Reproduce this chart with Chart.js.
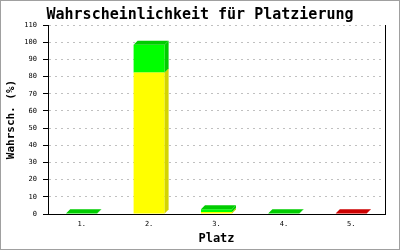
<!DOCTYPE html>
<html>
<head>
<meta charset="utf-8">
<script src="https://cdn.jsdelivr.net/npm/chart.js@4/dist/chart.umd.min.js"></script>
<style>
  body { margin: 0; background: #fff; }
  #wrap { width: 400px; height: 250px; }
</style>
</head>
<body>
<div id="wrap"><canvas id="myChart" width="400" height="250"></canvas></div>
<script>
var places      = ["1.", "2.", "3.", "4.", "5."];
var yellowPart  = [0, 82.3, 1.2, 0, 0];
var topPart     = [0.5, 16.2, 1.5, 0.5, 0.5];
var topColors   = ["#00ff00", "#00ff00", "#00ff00", "#00ff00", "#ff0000"];
var yMax        = 110;
var yStep       = 10;

var mono = "'DejaVu Sans Mono', 'Liberation Mono', monospace";

// darker shade for the 3d faces
function shade(hex){
    var map = {"#ffff00": "#d4d400", "#00ff00": "#00cc00", "#ff0000": "#cc0000"};
    return map[hex] || hex;
}

var bar3d = {
    id: "bar3d",
    beforeDraw: function(chart){
        var c = chart.ctx;
        c.save();
        c.fillStyle = "#fff";
        c.fillRect(0, 0, chart.width, chart.height);
        c.strokeStyle = "#a0a0a0";
        c.lineWidth = 1;
        c.strokeRect(0.5, 0.5, chart.width - 1, chart.height - 1);
        c.restore();
    },
    afterDatasetsDraw: function(chart){
        var c = chart.ctx;
        var d = 4;
        var n = chart.data.datasets.length;
        c.save();
        for(let ds = 0; ds < n; ds++){
            var meta = chart.getDatasetMeta(ds);
            var dataset = chart.data.datasets[ds];
            meta.data.forEach(function(el, i){
                if(!dataset.data[i]) return;
                var p = el.getProps(["x", "y", "base", "width"], true);
                var l = p.x - p.width / 2, r = p.x + p.width / 2;
                var col = Array.isArray(dataset.backgroundColor) ? dataset.backgroundColor[i] : dataset.backgroundColor;
                c.fillStyle = shade(col);
                // side
                c.beginPath();
                c.moveTo(r, p.y);
                c.lineTo(r + d, p.y - d);
                c.lineTo(r + d, p.base - d);
                c.lineTo(r, p.base);
                c.closePath();
                c.fill();
                // top, only for the upper segment of the stack
                var upper = true;
                for(let k = ds + 1; k < n; k++){
                    if(chart.data.datasets[k].data[i]) upper = false;
                }
                if(upper){
                    c.beginPath();
                    c.moveTo(l, p.y);
                    c.lineTo(l + d, p.y - d);
                    c.lineTo(r + d, p.y - d);
                    c.lineTo(r, p.y);
                    c.closePath();
                    c.fill();
                }
            });
        }
        c.restore();
    }
};

var ctx = document.getElementById("myChart");
var chart = new Chart(ctx, {
    type: "bar",
    data: {
        labels: places,
        datasets: [{
            label: "gelb",
            data: yellowPart,
            backgroundColor: "#ffff00",
            borderWidth: 0
        }, {
            label: "oben",
            data: topPart,
            backgroundColor: topColors,
            borderWidth: 0
        }]
    },
    options: {
        responsive: false,
        animation: false,
        layout: { padding: { left: 1, right: 1, top: 0, bottom: 1 } },
        datasets: { bar: { barPercentage: 0.46, categoryPercentage: 1 } },
        plugins: {
            legend: { display: false },
            tooltip: { enabled: false },
            title: {
                display: true,
                text: "Wahrscheinlichkeit für Platzierung",
                color: "#000",
                font: { family: mono, size: 15, weight: "bold", lineHeight: 1.2 },
                padding: { top: 6, bottom: 1 }
            }
        },
        scales: {
            x: {
                stacked: true,
                grid: { display: false, drawTicks: false },
                border: { display: true, color: "#000", width: 1 },
                ticks: { color: "#000", padding: 6, font: { family: mono, size: 7 } },
                title: {
                    display: true,
                    text: "Platz",
                    color: "#000",
                    font: { family: mono, size: 12, weight: "bold", lineHeight: 1.2 },
                    padding: { top: 3, bottom: 3 }
                },
                afterFit: function(scale){ scale.height = 35; }
            },
            y: {
                stacked: true,
                min: 0,
                max: yMax,
                ticks: { stepSize: yStep, color: "#000", padding: 6, font: { family: mono, size: 7 } },
                grid: { color: "#c0c0c0", tickColor: "#000", tickLength: 5, lineWidth: 1 },
                border: { display: true, color: "#000", width: 1, dash: [2, 4] },
                title: {
                    display: true,
                    text: "Wahrsch. (%)",
                    color: "#000",
                    font: { family: mono, size: 11, weight: "bold", lineHeight: 1.2 },
                    padding: { top: 4, bottom: 0 }
                },
                afterFit: function(scale){ scale.width = 47; }
            },
            yr: {
                position: "right",
                min: 0,
                max: yMax,
                ticks: { display: false },
                grid: { display: false, drawTicks: false },
                border: { display: true, color: "#000", width: 1 },
                afterFit: function(scale){ scale.width = 14; }
            }
        }
    },
    plugins: [bar3d]
});
</script>
</body>
</html>
